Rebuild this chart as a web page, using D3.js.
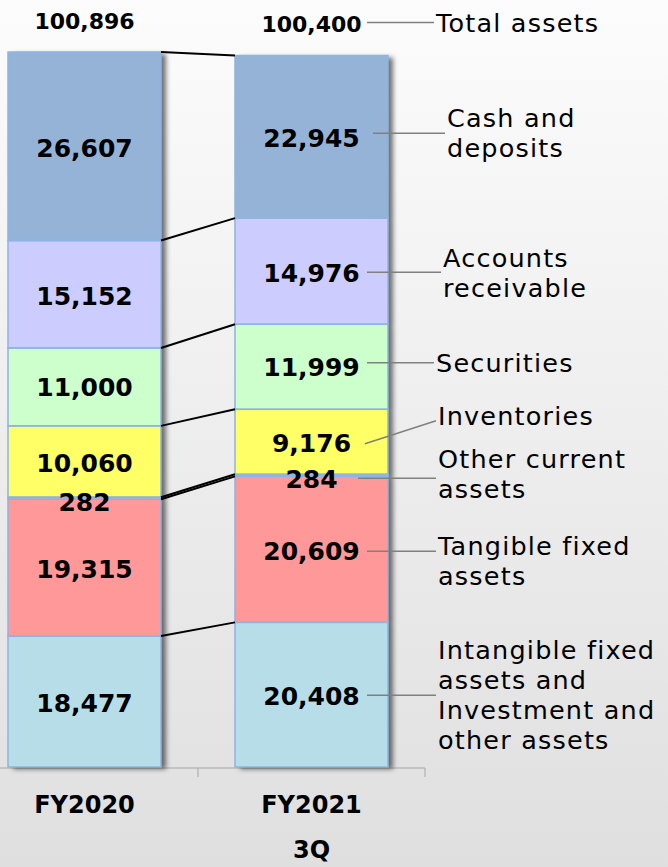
<!DOCTYPE html>
<html>
<head>
<meta charset="utf-8">
<script src="https://cdn.jsdelivr.net/npm/d3@7"></script>
<style>
  html, body { margin: 0; padding: 0; }
  svg { display: block; }
</style>
</head>
<body>
<svg id="chart" width="668" height="867"></svg>
<script>
// ----- data -----
const categories = ["FY2020", "FY2021"];
const categorySub = ["", "3Q"];
const totals = [100896, 100400];

// stacked from the bottom up
const keys = ["intangible", "tangible", "otherCurrent", "inventories", "securities", "receivable", "cash"];
const fy2020 = [18477, 19315, 282, 10060, 11000, 15152, 26607];
const fy2021 = [20408, 20609, 284, 9176, 11999, 14976, 22945];

const legendLines = [
  ["Intangible fixed", "assets and", "Investment and", "other assets"],
  ["Tangible fixed", "assets"],
  ["Other current", "assets"],
  ["Inventories"],
  ["Securities"],
  ["Accounts", "receivable"],
  ["Cash and", "deposits"]
];
const totalLabel = "Total assets";

// ----- layout / style -----
const colors = ["#b7dde8", "#ff9999", "#ff9999", "#ffff66", "#ccffcc", "#ccccff", "#95b3d7"];
const valueDy = [2, 2, 4, 2, 1, 2, 2];
// right-hand labels: x, block offset, leader start/end offsets, leader start x shift
const legendX = [438, 438, 438, 438, 436, 443, 447];
const legendDy = [-2, 10, -5.5, -28, -5, 0, -5.5];
const leadDy1 = [-1.5, 0, -1, 0, -5, -1, -5.5];
const leadDy2 = [-1.5, 0, -1, -23, -5, -1, -5.5];
const leadDx = [0, 0, -9, -2, 0, 0, 6];

const svg = d3.select("svg#chart");
const W = 668, H = 867;
const FONT = "DejaVu Sans, Verdana, sans-serif";

const defs = svg.append("defs");
const bg = defs.append("linearGradient")
  .attr("id", "bg").attr("x1", 0).attr("y1", 0).attr("x2", 0).attr("y2", 1);
bg.append("stop").attr("offset", "0%").attr("stop-color", "#fcfcfc");
bg.append("stop").attr("offset", "100%").attr("stop-color", "#dfdfdf");

const shadow = defs.append("filter").attr("id", "shadow")
  .attr("x", "-10%").attr("y", "-5%").attr("width", "130%").attr("height", "110%");
shadow.append("feDropShadow")
  .attr("dx", 5).attr("dy", 2).attr("stdDeviation", 2.5)
  .attr("flood-color", "#000").attr("flood-opacity", 0.55);

svg.append("rect").attr("width", W).attr("height", H).attr("fill", "url(#bg)");

const rows = categories.map((c, i) => {
  const vals = i === 0 ? fy2020 : fy2021;
  const r = { cat: c };
  keys.forEach((k, j) => (r[k] = vals[j]));
  return r;
});

const series = d3.stack().keys(keys)(rows);

const x = d3.scaleBand()
  .domain(categories)
  .range([-29, 425])
  .paddingInner(0.326)
  .paddingOuter(0.163);

const y = d3.scaleLinear()
  .domain([0, d3.max(totals)])
  .range([767, 52]);

// axis
const axisY = 768;
const step = x.step();
svg.append("line")
  .attr("x1", 0).attr("x2", x.range()[1])
  .attr("y1", axisY).attr("y2", axisY)
  .attr("stroke", "#a6a6a6").attr("stroke-width", 1);
categories.forEach((c, i) => {
  const bx = x.range()[0] + step * (i + 1);
  svg.append("line")
    .attr("x1", bx).attr("x2", bx)
    .attr("y1", axisY).attr("y2", axisY + 9)
    .attr("stroke", "#a6a6a6");
});

// bars
const bars = svg.append("g");
categories.forEach((c, i) => {
  const g = bars.append("g").attr("filter", "url(#shadow)");
  g.selectAll("rect")
    .data(series.map((s, j) => ({ d: s[i], j })))
    .join("rect")
    .attr("x", x(c))
    .attr("width", x.bandwidth())
    .attr("y", (e) => y(e.d[1]))
    .attr("height", (e) => y(e.d[0]) - y(e.d[1]))
    .attr("fill", (e) => colors[e.j]);
});
// outlines drawn after so the shadows don't cover them
categories.forEach((c, i) => {
  bars.append("g").selectAll("rect")
    .data(series.map((s, j) => ({ d: s[i], j })))
    .join("rect")
    .attr("x", x(c))
    .attr("width", x.bandwidth())
    .attr("y", (e) => y(e.d[1]))
    .attr("height", (e) => y(e.d[0]) - y(e.d[1]))
    .attr("fill", "none")
    .attr("stroke", "#8db4e2")
    .attr("stroke-width", 1.5);
});

// connector lines between bars
const xa = x(categories[0]) + x.bandwidth();
const xb = x(categories[1]);
svg.append("g").selectAll("line")
  .data(series)
  .join("line")
  .attr("x1", xa).attr("x2", xb)
  .attr("y1", (s) => y(s[0][1]))
  .attr("y2", (s) => y(s[1][1]))
  .attr("stroke", "#000").attr("stroke-width", 2);

// value labels
const fmt = d3.format(",");
categories.forEach((c, i) => {
  svg.append("g").selectAll("text")
    .data(series.map((s, j) => ({ d: s[i], j })))
    .join("text")
    .attr("x", x(c) + x.bandwidth() / 2)
    .attr("y", (e) => (y(e.d[0]) + y(e.d[1])) / 2 + valueDy[e.j])
    .attr("text-anchor", "middle")
    .attr("dominant-baseline", "central")
    .attr("font-family", FONT)
    .attr("font-weight", "bold")
    .attr("font-size", 25)
    .attr("fill", "#000")
    .text((e) => fmt(e.d[1] - e.d[0]));

  svg.append("text")
    .attr("x", x(c) + x.bandwidth() / 2)
    .attr("y", y(totals[i]) - 31)
    .attr("text-anchor", "middle")
    .attr("dominant-baseline", "central")
    .attr("font-family", FONT)
    .attr("font-weight", "bold")
    .attr("font-size", 22)
    .text(fmt(totals[i]));
});

// category labels
categories.forEach((c, i) => {
  const cx = x(c) + x.bandwidth() / 2;
  [c, categorySub[i]].forEach((t, k) => {
    svg.append("text")
      .attr("x", cx)
      .attr("y", 805 + k * 45)
      .attr("text-anchor", "middle")
      .attr("dominant-baseline", "central")
      .attr("font-family", FONT)
      .attr("font-weight", "bold")
      .attr("font-size", 24)
      .text(t);
  });
});

// right-hand labels with leader lines
const lineH = 30;
const leadX = x(categories[1]) + x.bandwidth() - 21;
const legend = svg.append("g")
  .attr("font-family", FONT)
  .attr("font-size", 25.5)
  .attr("letter-spacing", 1.2)
  .attr("fill", "#000");

series.forEach((s, j) => {
  const d = s[1];
  const yc = (y(d[0]) + y(d[1])) / 2 + valueDy[j];
  const ly = yc + legendDy[j];
  const lines = legendLines[j];
  const top = ly - (lines.length - 1) * lineH / 2;
  const lx = legendX[j];
  legend.append("line")
    .attr("x1", leadX + leadDx[j]).attr("x2", lx - 2)
    .attr("y1", yc + leadDy1[j]).attr("y2", yc + leadDy2[j])
    .attr("stroke", "#808080").attr("stroke-width", 1.5);
  lines.forEach((t, k) => {
    legend.append("text")
      .attr("x", lx)
      .attr("y", top + k * lineH)
      .attr("dominant-baseline", "central")
      .text(t);
  });
});

const ty = y(totals[1]) - 31;
legend.append("line")
  .attr("x1", leadX).attr("x2", 434)
  .attr("y1", ty - 2).attr("y2", ty - 2)
  .attr("stroke", "#808080").attr("stroke-width", 1.5);
legend.append("text")
  .attr("x", 436).attr("y", ty - 2)
  .attr("dominant-baseline", "central")
  .text(totalLabel);
</script>
</body>
</html>
